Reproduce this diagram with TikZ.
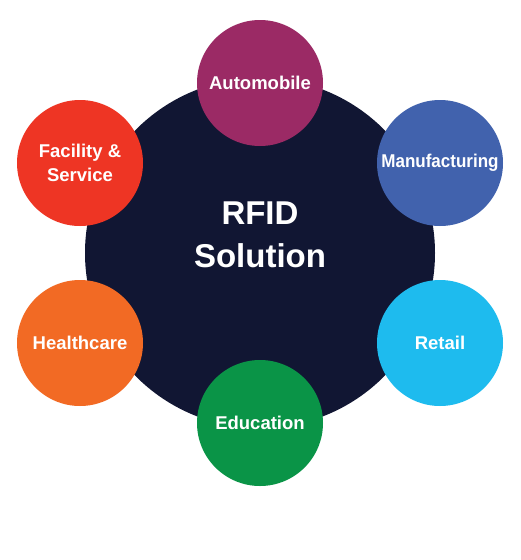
\documentclass[tikz,border=0pt]{standalone}
\usepackage{fontspec}
\setmainfont{Liberation Sans}
\definecolor{navy}{HTML}{111633}
\definecolor{cauto}{HTML}{9B2A65}
\definecolor{cmanu}{HTML}{4162AD}
\definecolor{cfac}{HTML}{EE3524}
\definecolor{cheal}{HTML}{F26A24}
\definecolor{cedu}{HTML}{0A9447}
\definecolor{cret}{HTML}{1EBBEE}
\begin{document}
\begin{tikzpicture}[x=1pt,y=-1pt,
  sector/.style={circle,inner sep=0pt,minimum size=126pt,text=white,align=center,
    font=\fontsize{18.5}{24}\selectfont\bfseries}]
\fill[white] (0,0) rectangle (520,560);
\useasboundingbox (0,0) rectangle (520,560);
\node[circle,fill=navy,minimum size=350pt,inner sep=0pt] (hub) at (260,253) {};
\node[text=white,align=center,font=\fontsize{33}{43}\selectfont\bfseries] (title) at (260,235) {RFID\\Solution};
\node[sector,fill=cauto] (auto) at (260,83) {Automobile};
\node[sector,fill=cmanu] (manu) at (440,163) {\scalebox{0.92}[1]{Manufacturing}};
\node[sector,fill=cret] (ret) at (440,343) {Retail};
\node[sector,fill=cedu] (edu) at (260,423) {Education};
\node[sector,fill=cheal] (heal) at (80,343) {Healthcare};
\node[sector,fill=cfac] (fac) at (80,163) {Facility \&\\Service};
\end{tikzpicture}
\end{document}
